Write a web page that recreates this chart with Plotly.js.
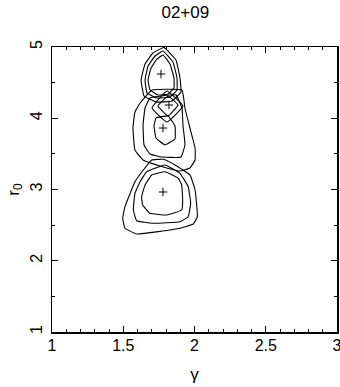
<!DOCTYPE html>
<html>
<head>
<meta charset="utf-8">
<script src="https://cdn.plot.ly/plotly-3.0.1.min.js"></script>
<style>html,body{margin:0;padding:0;background:#fff;}#chart{width:340px;height:387px;}</style>
</head>
<body>
<div id="chart"></div>
<script>
// Contour polylines (gamma, r0)
// Top family
const topInnerX  = [1.779,1.828,1.856,1.856,1.814,1.744,1.688,1.674,1.695,1.737,1.779];
const topInnerY  = [4.888,4.761,4.565,4.425,4.340,4.326,4.396,4.537,4.705,4.832,4.888];
const topMidX    = [1.779,1.849,1.877,1.877,1.828,1.737,1.667,1.653,1.674,1.723,1.779];
const topMidY    = [4.944,4.789,4.565,4.396,4.298,4.284,4.354,4.537,4.733,4.874,4.944];
const topOuterX  = [1.786,1.870,1.898,1.905,1.842,1.730,1.646,1.625,1.653,1.709,1.786];
const topOuterY  = [4.993,4.818,4.565,4.368,4.242,4.228,4.312,4.537,4.761,4.916,4.993];
// Small diamond family
const diaInnerX  = [1.814,1.884,1.814,1.744,1.814];
const diaInnerY  = [4.312,4.186,4.032,4.172,4.312];
const diaOuterX  = [1.807,1.919,1.807,1.702,1.807];
const diaOuterY  = [4.382,4.172,3.947,4.144,4.382];
// Middle family
const midOuterX  = [1.702,1.912,1.933,1.968,2.004,2.004,1.968,1.898,1.758,1.639,1.582,1.568,1.582,1.618,1.702];
const midOuterY  = [4.396,4.396,4.144,3.863,3.582,3.414,3.302,3.260,3.330,3.414,3.554,3.863,4.088,4.214,4.396];
const midMidX    = [1.688,1.870,1.912,1.919,1.933,1.905,1.772,1.688,1.646,1.639,1.653,1.688];
const midMidY    = [4.284,4.326,4.144,3.905,3.625,3.456,3.456,3.498,3.625,3.905,4.144,4.284];
const midInnerX  = [1.730,1.814,1.863,1.863,1.793,1.730,1.716,1.730];
const midInnerY  = [4.004,4.032,3.891,3.709,3.625,3.723,3.891,4.004];
// Bottom family
const botInnerX  = [1.700,1.793,1.886,1.910,1.917,1.910,1.805,1.688,1.636,1.629,1.653,1.700];
const botInnerY  = [3.204,3.250,3.157,3.063,2.853,2.712,2.642,2.666,2.782,2.899,3.063,3.204];
const botMidX    = [1.665,1.793,1.898,1.956,1.973,1.956,1.898,1.711,1.594,1.571,1.582,1.618,1.665];
const botMidY    = [3.250,3.344,3.227,3.039,2.806,2.618,2.548,2.526,2.562,2.712,2.947,3.109,3.250];
const botOuterX  = [1.700,1.781,1.863,1.968,2.004,2.020,1.992,1.898,1.594,1.512,1.496,1.512,1.582,1.641,1.700];
const botOuterY  = [3.414,3.424,3.344,3.204,2.993,2.618,2.516,2.456,2.375,2.456,2.596,2.759,3.109,3.274,3.414];
// Best-fit centres
const centerX = [1.765,1.821,1.779,1.779];
const centerY = [4.621,4.186,3.863,2.965];

const contours = [
  [topInnerX,topInnerY],[topMidX,topMidY],[topOuterX,topOuterY],
  [diaInnerX,diaInnerY],[diaOuterX,diaOuterY],
  [midOuterX,midOuterY],[midMidX,midMidY],[midInnerX,midInnerY],
  [botInnerX,botInnerY],[botMidX,botMidY],[botOuterX,botOuterY]
];

const traces = contours.map(c => ({
  x: c[0], y: c[1], type: 'scatter', mode: 'lines',
  line: {color: '#000', width: 1.1, shape: 'spline', smoothing: 0.3},
  hoverinfo: 'skip', showlegend: false
}));
traces.push({
  x: centerX, y: centerY, type: 'scatter', mode: 'markers',
  marker: {symbol: 'cross-thin', size: 6, line: {color: '#000', width: 1}},
  showlegend: false
});

const font = {family: 'Liberation Sans, Arial, sans-serif', size: 16, color: '#000'};
const titleFont = {family: 'Liberation Sans, Arial, sans-serif', size: 17, color: '#000'};
const axisCommon = {
  showgrid: false, zeroline: false, showline: true, mirror: 'ticks',
  linecolor: '#000', linewidth: 1.5, ticks: 'inside', ticklen: 6, tickwidth: 1.2, tickcolor: '#000',
  tickfont: font, fixedrange: true, ticklabeloverflow: 'allow'
};

const layout = {
  width: 340, height: 387,
  margin: {l: 52, r: 3, t: 47, b: 55},
  paper_bgcolor: '#fff', plot_bgcolor: '#fff',
  font: font,
  title: {text: '02+09', font: titleFont, x: 0.545, xanchor: 'center', y: 0.968, yanchor: 'middle'},
  xaxis: Object.assign({}, axisCommon, {
    range: [1, 3], tickvals: [1, 1.5, 2, 2.5, 3], ticktext: ['1','1.5','2','2.5','3'],
    minor: {dtick: 0.1, ticks: 'inside', ticklen: 3, tickcolor: '#000', tickwidth: 1},
    ticklabelstandoff: -2,
    title: {text: 'γ', font: titleFont, standoff: 15}
  }),
  yaxis: Object.assign({}, axisCommon, {
    range: [1, 5], tickvals: [1, 2, 3, 4, 5], ticktext: ['1','2','3','4','5'],
    tickangle: -90,
    minor: {dtick: 0.5, ticks: 'inside', ticklen: 3, tickcolor: '#000', tickwidth: 1},
    ticklabelstandoff: 2,
    title: {text: 'r<sub>0</sub>', font: titleFont, standoff: 4}
  })
};

Plotly.newPlot('chart', traces, layout, {displayModeBar: false, staticPlot: true});
</script>
</body>
</html>
